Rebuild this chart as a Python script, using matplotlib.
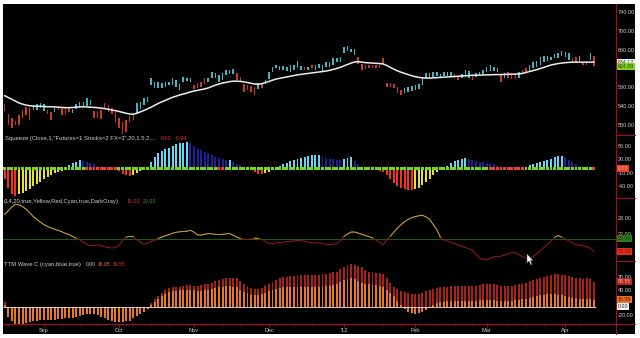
import numpy as np
import matplotlib
matplotlib.use('Agg')
import matplotlib.pyplot as plt
import matplotlib.transforms as mtransforms
from matplotlib.patches import Rectangle, Polygon
from matplotlib.lines import Line2D

plt.rcParams['font.family'] = ['Liberation Sans', 'DejaVu Sans']

# daily bars, 17 Aug 2011 .. 13 Apr 2012 (trading days only)
opens = [544, 523, 514, 508, 521, 532, 539, 536, 532, 533,
         537, 530, 532, 527, 527, 541, 536, 536, 537, 525,
         535, 539, 540, 541, 543, 530, 530, 532, 546, 543,
         537, 527, 514, 507, 511, 520, 523, 523, 535, 543,
         548, 585, 578, 578, 578, 580, 585, 585, 580, 575,
         592, 594, 592, 585, 589, 592, 600, 591, 601, 600,
         591, 596, 607, 608, 608, 610, 603, 587, 585, 583,
         580, 577, 589, 587, 598, 614, 621, 617, 617, 615,
         614, 617, 622, 617, 624, 617, 629, 617, 622, 615,
         624, 624, 629, 634, 634, 653, 658, 655, 649, 646,
         631, 629, 629, 628, 629, 628, 642, 589, 589, 587,
         582, 575, 568, 571, 573, 575, 577, 586, 600, 601,
         603, 605, 601, 605, 603, 603, 608, 603, 601, 603,
         601, 605, 603, 607, 608, 612, 615, 615, 612, 608,
         601, 612, 608, 607, 600, 617, 622, 615, 622, 624,
         629, 635, 636, 639, 642, 642, 648, 646, 639, 643,
         646, 636, 635, 634, 639, 648]
closes = [530, 500, 493, 500, 500, 514, 521, 511, 543, 544,
          546, 544, 523, 511, 536, 532, 521, 523, 527, 534,
          544, 548, 550, 558, 553, 514, 514, 513, 536, 528,
          523, 507, 493, 480, 486, 506, 511, 546, 548, 558,
          560, 600, 592, 592, 589, 591, 592, 600, 596, 587,
          603, 601, 601, 577, 578, 582, 587, 601, 614, 610,
          607, 610, 617, 617, 619, 596, 594, 571, 575, 571,
          563, 589, 578, 596, 614, 624, 629, 626, 626, 624,
          627, 629, 636, 626, 617, 624, 622, 628, 631, 629,
          634, 634, 642, 642, 644, 667, 669, 663, 662, 631,
          617, 619, 622, 621, 622, 621, 631, 580, 580, 578,
          568, 564, 578, 582, 584, 585, 587, 600, 610, 610,
          612, 614, 608, 614, 612, 612, 600, 596, 608, 617,
          615, 596, 610, 614, 617, 624, 627, 624, 622, 592,
          610, 601, 598, 598, 612, 608, 614, 627, 634, 636,
          644, 648, 648, 646, 651, 653, 658, 655, 653, 634,
          635, 648, 629, 627, 653, 624.89]
ma = [562.5, 558.5, 555, 551, 547, 544.5, 542.5, 541, 540.5, 540,
      540, 539.5, 539, 539, 538.5, 538, 537.5, 537, 537, 537.5,
      538, 538.5, 539, 538.5, 538, 537.5, 537, 536, 535, 533.5,
      532, 530.5, 529, 527, 525, 523.5, 523, 525, 528, 531,
      534.5, 538, 542, 546, 549.5, 552.5, 556, 559, 561.5, 564,
      566, 568, 570.5, 572.5, 574, 575.5, 577, 579, 582, 585,
      587.5, 589.5, 591, 592.5, 593.5, 593.5, 593, 592, 590.5, 589,
      587.5, 587, 588, 590.5, 593, 595.5, 598, 599.5, 601, 602.5,
      604, 605.5, 607, 608, 609, 610, 611, 612, 613, 614,
      615, 616.5, 618.5, 620.5, 623, 626, 629, 632, 634.5, 635,
      634, 633, 632.5, 632, 631.5, 631, 630, 627, 623, 619,
      615.5, 612.5, 610, 607.5, 605, 603, 601.5, 600.5, 600, 600,
      600.5, 601, 601.5, 602, 602.5, 603, 603.5, 604, 604.5, 605,
      605.5, 606, 606, 606.5, 606.5, 607, 607, 607.5, 607.5, 607.5,
      608, 608, 608.5, 608.5, 609, 610, 612, 614, 616, 618,
      620.5, 623, 625.5, 628, 629.5, 631, 632, 633, 633.5, 634,
      634, 634, 634, 634, 634, 634.12]

# squeeze momentum histogram and squeeze-on stretches (first, last bar)
squeeze = [-24, -43, -57, -61, -57, -54, -51, -46, -40, -35,
           -30, -24, -19, -15, -11, -8, -5, -3, 8, 11,
           15, 18, 17, 15, 12.5, 10, 5, 2, 1, -1,
           -1.5, -2.5, -6, -12, -15, -17, -15, -11, -6, -2,
           4, 15, 26, 33, 38, 42, 46, 49, 53, 55,
           57, 58, 55, 49, 43, 40, 36, 33, 29, 26,
           23, 20, 18, 18.5, 14, 10, 7, 4, 1.5, -4,
           -8, -12, -12.5, -10, -7, -3, 1.5, 5, 10, 12.5,
           15.5, 18, 21, 23.5, 26, 27, 29, 29.5, 29.7, 27,
           23.5, 21, 20, 18, 17.5, 21, 23.5, 24, 16, 9,
           4, 1, -1, -2, -4, -6, -8, -15, -24, -33,
           -39, -43, -46, -48, -48.5, -46, -43, -37.5, -30, -23,
           -15, -8, -2, 1, 5, 11, 15.5, 18, 21, 22,
           20, 18, 16, 15, 14, 12.5, 11, 9, 5, 2,
           1, 0.6, 0.4, 0.8, 1.5, 2.5, 4, 6.6, 9.5, 12.5,
           14.7, 16, 18, 21, 24, 26.5, 27, 24, 18, 14,
           9, 5, 3, 0.8, -0.4, -0.94]
squeeze_on = [(23, 31), (60, 61), (136, 145), (165, 165)]

adx = [29.5, 31, 32.5, 33.5, 33.3, 32.6, 31.6, 30.2, 28.7, 27.6,
       26.5, 25.5, 24.8, 24.2, 23.7, 23.2, 22.7, 22.1, 21.6, 20.9,
       20.2, 19.5, 18.6, 17.7, 17.2, 17.3, 17.5, 17.3, 16.8, 16.5,
       16.3, 16.5, 17.4, 19.2, 20.6, 20.9, 20.8, 19.6, 18.6, 17.8,
       18.2, 18.9, 19.4, 20.1, 20.6, 21.1, 21.6, 22.1, 22.5, 22.7,
       22.8, 22.9, 23.3, 22.6, 21.5, 21.4, 21.7, 22, 21.9, 21.7,
       21.6, 21.7, 21.9, 22, 21.3, 20.6, 20.1, 19.8, 19.6, 19.9,
       20.2, 20.1, 19.7, 18.9, 18, 18.1, 18.3, 18.5, 18.6, 18.8,
       18.9, 19.1, 19.3, 19.2, 18.9, 18.6, 18.4, 18.3, 18.3, 18.1,
       17.8, 17.6, 17.8, 18.1, 19.1, 20.9, 21.8, 22.6, 22.6, 22.2,
       21.7, 21.2, 20.8, 20.3, 19.4, 18.5, 17.6, 19.6, 21, 22.6,
       24.2, 25.5, 26.7, 27.6, 28.3, 28.7, 29, 29.2, 28.5, 27.6,
       25.6, 23.6, 20.6, 19.6, 19, 18.5, 18, 17.5, 17, 16.5,
       16, 15.5, 13.8, 12.3, 11.9, 11.6, 12.2, 12.9, 12.9, 13.1,
       13.5, 14, 14.7, 14.4, 13.7, 13, 12.4, 12.6, 12.9, 14,
       15.2, 16.5, 17.8, 19, 20.5, 21.2, 20.6, 19.8, 19, 18.3,
       17.6, 17.4, 17.1, 16.8, 16.2, 15.03]
adx_level = 20.0

# TTM wave: slow wave (dark red) and fast wave (orange)
wave_slow = [10, -18, -27, -32, -34, -34, -32, -30, -29, -27,
             -26, -25, -25, -25, -25, -24, -23, -22, -21, -20,
             -19, -17, -15, -13, -12, -13, -15, -19, -22, -25,
             -28, -30, -30, -29, -27, -26, -22, -17, -12, -8,
             -3, 8, 17, 25, 32, 38, 43, 45, 46, 47,
             49, 50, 50, 49, 48, 50, 52, 54, 56, 59,
             62, 64, 66, 67.6, 67, 66, 61, 54, 48, 44,
             41, 42, 44, 48, 53, 58, 63, 67, 69, 70,
             71.5, 72.5, 73, 73, 73, 73, 73, 73.5, 75, 76,
             77, 78, 80, 82, 87, 93, 97, 99, 98, 96,
             92, 86, 82, 80, 79, 78, 77, 68, 56, 47,
             42, 37, 34, 32, 30, 29.7, 30, 32, 36, 39,
             41, 43, 45, 46, 47, 48, 48, 48, 48, 48,
             48, 48, 49, 51, 52, 54, 53, 52, 50, 49,
             48, 48, 49, 51, 52, 54, 56, 59, 62, 64,
             67, 70, 72, 74, 75.5, 75.5, 75, 73, 72, 70,
             68, 66, 65, 67, 65, 58.55]
wave_fast = [5, -24, -33, -39, -40, -40, -38, -36, -34, -32,
             -31, -30, -30, -30, -30, -29, -28, -27, -26, -25,
             -24, -22, -20, -17, -16, -17, -20, -24, -27, -30,
             -33, -35, -36, -35, -33, -32, -27, -21, -16, -12,
             -6, 5, 12, 19, 25, 30, 34, 36, 37, 38,
             39, 40, 40, 38, 37, 37, 38, 40, 42, 44,
             46, 47, 48, 48, 47, 45, 40, 35, 31, 28,
             27, 28, 30, 33, 36, 39, 42, 44, 45, 45,
             46, 46, 46, 46, 45, 45, 45, 45, 46, 47,
             48, 49, 51, 54, 58, 62, 65, 66, 64, 60,
             56, 53, 52, 51, 50, 48, 46, 40, 32, 24,
             14, 4, -5, -11, -14, -16, -15, -12, -7, -2,
             4, 8, 10, 12, 13, 13, 13, 14, 14, 14,
             14, 14, 14, 15, 15, 16, 15, 15, 14, 13,
             13, 13, 14, 15, 16, 17, 19, 21, 23, 25,
             27, 28, 29, 29, 29, 28, 27, 25, 23, 21,
             20, 19, 18, 18, 17, 16.05]
wave_a = 0.0

month_pos = [11, 32, 53, 74, 95, 115, 135, 157]
month_names = ['Sep', 'Oct', 'Nov', 'Dec', "'12", 'Feb', 'Mar', 'Apr']

W, H = 640, 338
AXCOL = '#a01010'
TXT = '#d0d0d0'

fig = plt.figure(figsize=(W / 100, H / 100), dpi=100, facecolor='white')
fig.add_artist(Rectangle((3 / W, 1 - 334 / H), 632 / W, 330 / H,
                         transform=fig.transFigure, facecolor='black',
                         edgecolor='none', zorder=-1))
renderer = fig.canvas.get_renderer()

x = np.arange(len(closes))
xlim = (-0.48, 171.2)


def panel(top, bottom, ylim, ticks):
    ax = fig.add_axes([3 / W, 1 - bottom / H, 613 / W, (bottom - top) / H])
    ax.set_facecolor('black')
    ax.set_xlim(*xlim)
    ax.set_ylim(*ylim)
    for s in ax.spines.values():
        s.set_visible(False)
    ax.yaxis.tick_right()
    ax.set_yticks(ticks)
    ax.set_yticklabels(['%.2f' % t for t in ticks])
    ax.tick_params(axis='y', length=0, pad=1.5, labelsize=4, labelcolor=TXT)
    ax.tick_params(axis='x', which='both', length=0, labelbottom=False)
    ax.top_px = top
    return ax


def value_box(ax, val, text, fc, tc):
    tr = mtransforms.blended_transform_factory(ax.transAxes, ax.transData)
    ax.text(1.0 + 1.5 / 613, val, text, transform=tr, fontsize=3.8, color=tc,
            va='center', ha='left', clip_on=False, zorder=5,
            bbox=dict(boxstyle='square,pad=0.18', fc=fc, ec='none'))


def header(ax, parts):
    # texts run left to right along the top of a panel, never overlapping
    y = 1 - (ax.top_px + 3.5) / H
    end = 0
    for xpx, text, col, size in parts:
        xpx = max(xpx, end + 2)
        t = fig.text(xpx / W, y, text, fontsize=size, color=col,
                     va='center', ha='left')
        end = t.get_window_extent(renderer).x1


# price bars + moving average
ax1 = panel(4, 135, (478.7, 758), [740, 700, 660, 580, 540, 500])
o = np.array(opens, dtype=float)
c = np.array(closes, dtype=float)
up = c >= o
body = np.maximum(np.abs(c - o), 2.0)
ax1.bar(x, body, bottom=np.minimum(o, c), width=0.42,
        color=np.where(up, '#45b5c4', '#c83a22'), linewidth=0)
ax1.plot(x, ma, color='#ececec', lw=1.1)
value_box(ax1, ma[-1], '%.2f' % ma[-1], '#f2f2f2', '#333333')
value_box(ax1, closes[-1], '%.2f' % closes[-1], '#7ed321', '#1d4a05')

# squeeze histogram with squeeze dots on the zero line
ax2 = panel(135, 198, (-65.4, 73.6), [50, 20, -10, -40])
h = np.array(squeeze, dtype=float)
prev = np.concatenate([[0.0], h[:-1]])
hcol = np.where(h >= 0, np.where(h >= prev, '#66d6f2', '#1c2296'),
                np.where(h < prev, '#f0321e', '#e6e032'))
ax2.bar(x, h, width=0.55, color=hcol, linewidth=0)
on = np.zeros(len(h), dtype=bool)
for a, b in squeeze_on:
    on[a:b + 1] = True
ax2.scatter(x, np.zeros(len(h)), marker='s', s=4.5, linewidths=0,
            c=np.where(on, '#f04030', '#76d81c'), zorder=3)
value_box(ax2, 0, '0.00', '#e8402a', '#f8b0a0')
header(ax2, [(5, 'Squeeze (Close,1,"Futures=1 Stocks=2 FX=3",20,1.5,2,...', TXT, 4.2),
             (161, '0.00', '#f03020', 3.8), (175, '%.2f' % squeeze[-1], '#f03020', 3.8)])

# trend strength line, yellow above the level, red below
ax3 = panel(198, 261, (11.2, 36), [28, 22])
a = np.array(adx)
ax3.axhline(adx_level, color='#1e5a10', lw=0.8)
ax3.plot(x, a, color='#9c1a12', lw=0.7)
ax3.plot(x, np.where(a >= adx_level, a, np.nan), color='#b4ac36', lw=0.7)
value_box(ax3, adx_level, '%.2f' % adx_level, '#2f7a1a', '#0f3a05')
value_box(ax3, adx[-1], '%.2f' % adx[-1], '#e0301e', '#7a0a00')
header(ax3, [(4, '(14,20,true,Yellow,Red,Cyan,true,DarkGray)', TXT, 4.2),
             (127, '%.2f' % adx[-1], '#f03020', 3.8),
             (142, '%.2f' % adx_level, '#3aa020', 3.8)])

# TTM wave bars
ax4 = panel(261, 324, (-40, 106.5), [70, 40, -20])
ax4.bar(x, wave_slow, width=0.55, color='#a82218', linewidth=0)
ax4.bar(x, wave_fast, width=0.55, color='#e8782c', linewidth=0)
ax4.hlines(0, xlim[0], x[-1] + 0.5, color='#f2e6d8', lw=0.6, zorder=3)
value_box(ax4, wave_slow[-1], '%.2f' % wave_slow[-1], '#b02a1a', '#f0c0b0')
value_box(ax4, wave_fast[-1], '%.2f' % wave_fast[-1], '#e8702a', '#402000')
value_box(ax4, wave_a, '%.2f' % wave_a, '#f4f4f4', '#222222')
header(ax4, [(4, 'TTM Wave C (cyan,blue,true)', TXT, 4.2),
             (86, '%.2f' % wave_a, TXT, 3.6),
             (96, '%.2f' % wave_fast[-1], '#f07a30', 3.6),
             (107, '%.2f' % wave_slow[-1], '#e03020', 3.6)])

ax4.spines['bottom'].set_visible(True)
ax4.spines['bottom'].set_color(AXCOL)
ax4.set_xticks(month_pos)
ax4.set_xticklabels(month_names)
ax4.set_xticks(np.arange(1, 170, 5), minor=True)
ax4.tick_params(axis='x', which='major', length=2, color=AXCOL, labelbottom=True,
                labelsize=4, labelcolor=TXT, pad=1)
ax4.tick_params(axis='x', which='minor', length=1.2, color=AXCOL)


# red frame of the value scale
def fig_line(xs, ys, lw=0.8):
    fig.add_artist(Line2D([v / W for v in xs], [1 - v / H for v in ys],
                          transform=fig.transFigure, color=AXCOL, lw=lw))


fig_line([616, 616], [4, 334])
for yb in (135, 198, 261):
    fig_line([616, 635], [yb, yb])
fig_line([3, 635], [324, 324])

# mouse pointer resting on the trend panel
pointer = [(527, 254), (527, 263), (529, 261), (531, 265), (532, 264.5),
           (530.5, 260.5), (533, 260.5)]
fig.add_artist(Polygon([(px / W, 1 - py / H) for px, py in pointer],
                       closed=True, transform=fig.transFigure,
                       facecolor='white', edgecolor='#555555', lw=0.3, zorder=6))

fig.savefig('out.png', dpi=100, facecolor='white')
